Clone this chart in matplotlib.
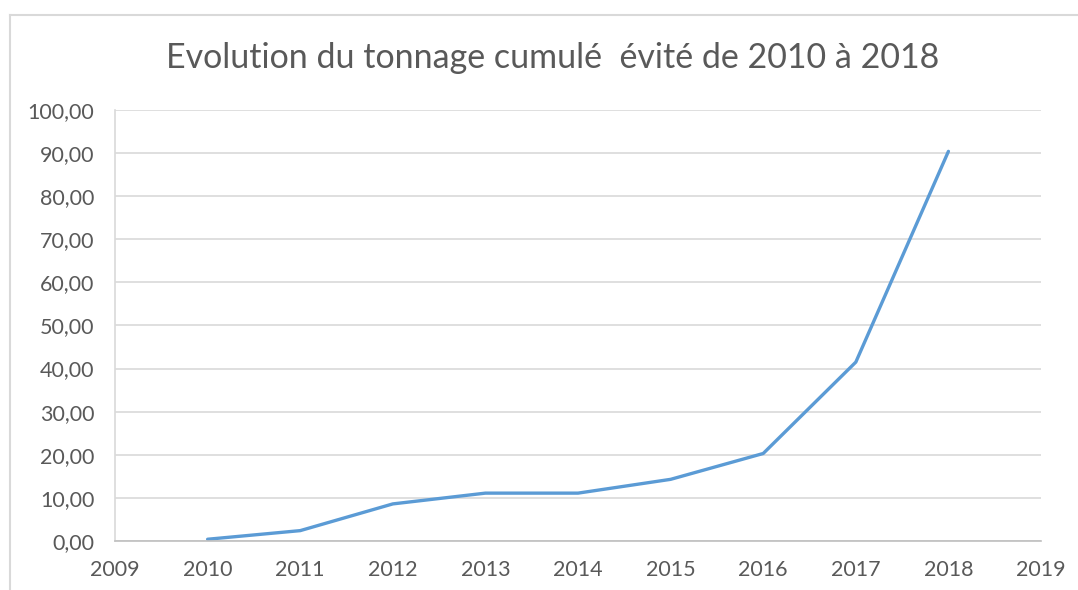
import matplotlib.pyplot as plt
from matplotlib.lines import Line2D
from matplotlib.ticker import FuncFormatter

# valeurs
annees = [2010, 2011, 2012, 2013, 2014, 2015, 2016, 2017, 2018]
tonnage = [0.4, 2.4, 8.6, 11.1, 11.1, 14.3, 20.3, 41.5, 90.4]
titre = "Evolution du tonnage cumulé  évité de 2010 à 2018"

plt.rcParams['font.family'] = ['Lato', 'DejaVu Sans']

fig = plt.figure(figsize=(10.78, 5.9), dpi=100)
ax = fig.add_axes([0.1067, 0.0831, 0.859, 0.7305])

ax.plot(annees, tonnage, color='#5B9BD5', linewidth=2.4, solid_capstyle='round')

ax.set_xlim(2009, 2019)
ax.set_ylim(0, 100)
ax.set_xticks(range(2009, 2020))
ax.set_yticks(range(0, 101, 10))
ax.yaxis.set_major_formatter(FuncFormatter(lambda v, p: f"{v:.2f}".replace('.', ',')))

ax.grid(axis='y', color='#D9D9D9', linewidth=1.2)
ax.set_axisbelow(True)
for s in ['top', 'right']:
    ax.spines[s].set_visible(False)
ax.spines['left'].set_color('#D9D9D9')
ax.spines['bottom'].set_color('#BFBFBF')
ax.spines['left'].set_linewidth(1.2)
ax.spines['bottom'].set_linewidth(1.2)
ax.tick_params(length=0, labelsize=15.5, colors='#595959')
ax.tick_params(axis='y', pad=15)
ax.tick_params(axis='x', pad=14)

fig.text(0.513, 0.902, titre, ha='center', va='center', fontsize=24.5, color='#595959')

# cadre du graphique (haut et gauche)
fig.add_artist(Line2D([10 / 1078, 1], [1 - 15 / 590] * 2, color='#D9D9D9', lw=1.5))
fig.add_artist(Line2D([10 / 1078] * 2, [0, 1 - 15 / 590], color='#D9D9D9', lw=1.5))

fig.savefig('out.png', dpi=100)
